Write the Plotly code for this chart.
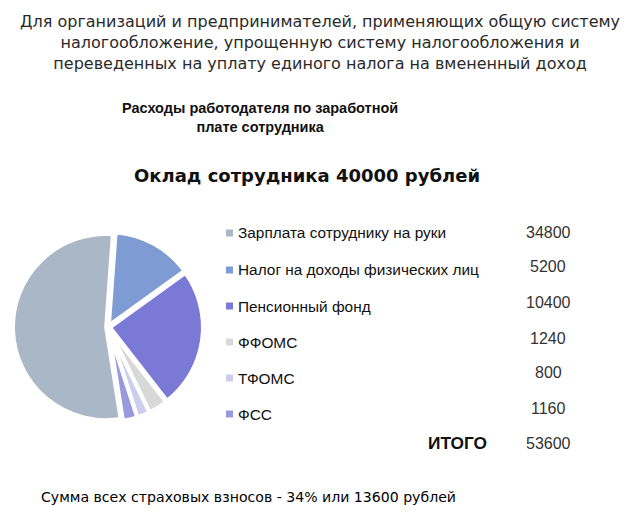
import plotly.graph_objects as go

# ---- data ----
categories = ["Зарплата сотруднику на руки", "Налог на доходы физических лиц",
              "Пенсионный фонд", "ФФОМС", "ТФОМС", "ФСС"]
amounts = [34800, 5200, 10400, 1240, 800, 1160]
total_label = "ИТОГО"
total_amount = 53600
# slice sizes as drawn in the reference pie (percent of the circle)
slice_shares = [53.6, 13.9, 24.4, 3.3, 2.2, 2.5]
colors = ["#AAB7C6", "#7E9BD4", "#7A7AD6", "#D8D8D8", "#CDCDEE", "#9999DE"]

header = ("Для организаций и предпринимателей, применяющих общую систему<br>"
          "налогообложение, упрощенную систему налогообложения и<br>"
          "переведенных на уплату единого налога на вмененный доход")
chart_title = "Расходы работодателя по заработной<br>плате сотрудника"
subtitle = "Оклад сотрудника 40000 рублей"
footer = "Сумма всех страховых взносов - 34% или 13600 рублей"

W, H = 640, 526
OFF = 8  # page body margin


def px(x):
    return (x - OFF) / W


def py(y):
    return 1 - (y - OFF) / H


fig = go.Figure()
fig.add_trace(go.Pie(
    labels=categories, values=slice_shares, sort=False, direction="clockwise",
    rotation=171, textinfo="none", hoverinfo="label+value",
    marker=dict(colors=colors, line=dict(color="white", width=4)),
    pull=[0.02] * len(categories),
    domain=dict(x=[px(13), px(203)], y=[py(422), py(232)]),
    showlegend=False,
))

ann = []
ann.append(dict(text=header, x=px(320), y=py(43), xanchor="center", yanchor="middle",
                font=dict(family="DejaVu Sans", size=16, color="#2a2a2a")))
ann.append(dict(text="<b>" + chart_title + "</b>", x=px(260), y=py(117), xanchor="center",
                yanchor="middle", font=dict(family="Liberation Sans", size=14.5, color="#111")))
ann.append(dict(text="<b>" + subtitle + "</b>", x=px(306.5), y=py(175), xanchor="center",
                yanchor="middle", font=dict(family="DejaVu Sans", size=18, color="#111")))
ann.append(dict(text=footer, x=px(248.5), y=py(497), xanchor="center", yanchor="middle",
                font=dict(family="DejaVu Sans", size=14.1, color="#000")))

shapes = []
label_y = [233, 270, 306, 342, 378, 414]
num_y = [232, 267, 302, 338, 372, 408]
for i, (cat, amt) in enumerate(zip(categories, amounts)):
    y = label_y[i]
    shapes.append(dict(type="rect", xref="paper", yref="paper",
                       x0=px(226), x1=px(233), y0=py(y + 3.5), y1=py(y - 3.5),
                       fillcolor=colors[i], line=dict(width=0)))
    ann.append(dict(text=cat, x=px(236), y=py(y), xanchor="left", yanchor="middle",
                    font=dict(family="Liberation Sans", size=15.4, color="#111")))
    ann.append(dict(text=str(amt), x=px(548), y=py(num_y[i]), xanchor="center",
                    yanchor="middle", font=dict(family="Liberation Sans", size=16, color="#333")))
ann.append(dict(text="<b>" + total_label + "</b>", x=px(457.5), y=py(443), xanchor="center",
                yanchor="middle", font=dict(family="Liberation Sans", size=17.3, color="#111")))
ann.append(dict(text=str(total_amount), x=px(548), y=py(443), xanchor="center",
                yanchor="middle", font=dict(family="Liberation Sans", size=16, color="#333")))

for a in ann:
    a.update(xref="paper", yref="paper", showarrow=False)

fig.update_layout(width=W, height=H, margin=dict(l=0, r=0, t=0, b=0),
                  paper_bgcolor="white", plot_bgcolor="white",
                  annotations=ann, shapes=shapes)
fig.write_html("out.html")
